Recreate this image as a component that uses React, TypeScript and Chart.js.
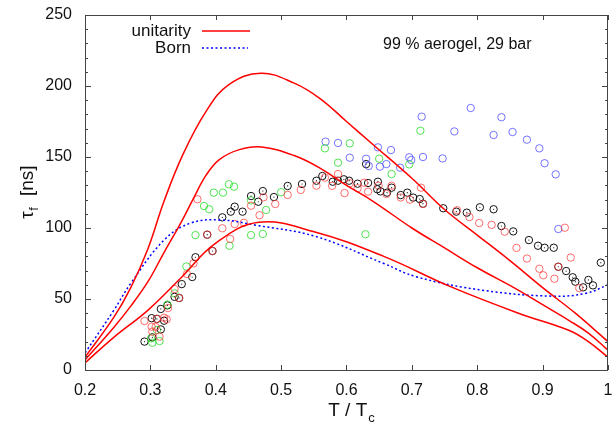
import React, { useEffect, useRef } from "react";
import { Chart, registerables } from "chart.js";

Chart.register(...registerables);

// Model curves: [T/Tc, tau_f (ns)]
const unitarityHigh: number[][] = [
  [0.2, 9], [0.244, 37], [0.27, 58], [0.296, 85], [0.321, 119], [0.35, 152], [0.385, 182],
  [0.42, 201], [0.469, 209], [0.52, 202], [0.56, 191], [0.6, 175], [0.64, 159],
  [0.7, 135], [0.75, 113], [0.8, 95], [0.85, 77], [0.9, 58], [0.95, 40], [1.0, 20],
];
const unitarityMid: number[][] = [
  [0.2, 7], [0.244, 30], [0.27, 45], [0.296, 62], [0.32, 82], [0.347, 104], [0.365, 120],
  [0.385, 137], [0.405, 148], [0.435, 155], [0.47, 157], [0.52, 151], [0.56, 142], [0.6, 130],
  [0.64, 119], [0.7, 100], [0.75, 86], [0.8, 72], [0.86, 57], [0.9, 46], [0.94, 35],
  [0.97, 26], [1.0, 14],
];
const unitarityLow: number[][] = [
  [0.2, 5], [0.244, 23], [0.296, 42], [0.347, 65], [0.399, 89], [0.466, 104], [0.553, 97],
  [0.657, 80], [0.76, 58.5], [0.863, 40], [0.94, 28], [0.97, 20], [1.0, 9],
];
const bornCurve: number[][] = [
  [0.2, 12], [0.244, 42], [0.27, 61], [0.321, 91.5], [0.362, 103.5], [0.409, 105.6],
  [0.461, 102], [0.553, 94], [0.657, 75], [0.708, 65.5], [0.811, 56], [0.915, 52],
  [0.966, 54], [1.0, 60],
];

// Measured points
const blackPts: number[][] = [
  [0.291, 20], [0.303, 23], [0.302, 36.5], [0.31, 36], [0.316, 28.6], [0.316, 43], [0.321, 34.7],
  [0.326, 45.5], [0.337, 51.5], [0.344, 50.7], [0.348, 60.5], [0.364, 65.5], [0.369, 79.4],
  [0.387, 95.3], [0.395, 83.8], [0.41, 107.5], [0.423, 111.5], [0.429, 115], [0.441, 111.5],
  [0.454, 122.5], [0.465, 118.5], [0.472, 126], [0.489, 121.8], [0.51, 129.6], [0.532, 131],
  [0.554, 133.3], [0.563, 136.6], [0.579, 132.6], [0.587, 133.3], [0.596, 134.3], [0.604, 133.3],
  [0.617, 131.2], [0.63, 145], [0.633, 131.7], [0.648, 132.6], [0.647, 127.3], [0.652, 125.8],
  [0.662, 124.9], [0.669, 128.4], [0.683, 123.2], [0.693, 124.9], [0.702, 121.4], [0.712, 120.4],
  [0.717, 117.1], [0.748, 113.9], [0.768, 111.5], [0.784, 110.8], [0.804, 114.6], [0.825, 113.2],
  [0.837, 101.4], [0.855, 97.6], [0.879, 91.5], [0.893, 87.5], [0.903, 86.1], [0.917, 86.1],
  [0.924, 72.7], [0.936, 69.7], [0.946, 65.3], [0.95, 62.2], [0.962, 58.2], [0.97, 63.4],
  [0.977, 59.6], [0.989, 75.6],
];
const redPts: number[][] = [
  [0.291, 34.5], [0.302, 30.5], [0.303, 27], [0.308, 30.3], [0.31, 36], [0.314, 23.5],
  [0.321, 36.8], [0.325, 35.7], [0.327, 43.6], [0.337, 57], [0.344, 50.7], [0.356, 67.6],
  [0.366, 75.1], [0.372, 120.2], [0.387, 95.3], [0.395, 83.8], [0.41, 99.8], [0.422, 92.3],
  [0.429, 102.8], [0.443, 103.7], [0.454, 115.7], [0.467, 109], [0.473, 121.6], [0.491, 116.9],
  [0.51, 123.3], [0.53, 126.8], [0.554, 129.8], [0.567, 135.5], [0.578, 129.7], [0.587, 138],
  [0.597, 124.6], [0.605, 131.5], [0.617, 128], [0.627, 131.9], [0.633, 125.6], [0.649, 129.8],
  [0.661, 124], [0.669, 129.8], [0.683, 121.5], [0.697, 120], [0.714, 128.4], [0.717, 116.9],
  [0.769, 112.5], [0.788, 107.7], [0.803, 103.5], [0.822, 102.2], [0.842, 97.4], [0.86, 86],
  [0.876, 78.5], [0.895, 71.3], [0.901, 66.7], [0.918, 64.3], [0.924, 72.7], [0.934, 100.2],
  [0.943, 79.2], [0.956, 57.7],
];
const greenPts: number[][] = [
  [0.301, 22.3], [0.303, 19.2], [0.314, 20.4], [0.31, 28.2], [0.326, 46], [0.337, 54],
  [0.355, 72.9], [0.369, 95], [0.382, 115.5], [0.39, 113.2], [0.397, 124.9], [0.411, 124.9],
  [0.42, 130.8], [0.428, 129.1], [0.421, 87.5], [0.454, 95], [0.472, 95.8], [0.454, 119.5],
  [0.477, 112.7], [0.5, 125.2], [0.567, 156.1], [0.587, 146], [0.605, 159.6], [0.629, 95.6],
  [0.65, 148.8], [0.669, 138], [0.696, 144.8], [0.713, 168.5],
];
const bluePts: number[][] = [
  [0.568, 160.8], [0.587, 159.9], [0.605, 149.5], [0.63, 148.8], [0.634, 143.7], [0.648, 156.8],
  [0.651, 143.2], [0.661, 145], [0.668, 154.9], [0.682, 142.5], [0.696, 149.8], [0.699, 147.9],
  [0.715, 178.4], [0.717, 150], [0.747, 149], [0.765, 168], [0.79, 184.5], [0.825, 165.5],
  [0.837, 178], [0.854, 167.6], [0.876, 162.2], [0.895, 156.1], [0.903, 145.6], [0.92, 137.8],
  [0.924, 99.3],
];

const xTickValues = [0.2, 0.3, 0.4, 0.5, 0.6, 0.7, 0.8, 0.9, 1.0];
const legendLabels = ["unitarity", "Born"];
const annotationText = "99 % aerogel, 29 bar";

const FONT = "'Liberation Sans', Arial, Helvetica, sans-serif";

const toXY = (arr: number[][]) => arr.map(([x, y]) => ({ x, y }));

const decorPlugin = {
  id: "decor",
  afterDraw(chart: any) {
    const { ctx, chartArea } = chart;
    const { left, right, top, bottom } = chartArea;
    const xs = chart.scales.x;
    const ys = chart.scales.y;
    ctx.save();
    // frame
    ctx.strokeStyle = "#444";
    ctx.lineWidth = 1;
    ctx.strokeRect(left + 0.5, top + 0.5, right - left - 1, bottom - top);
    // ticks
    ctx.beginPath();
    for (let v = 0; v <= 250; v += 10) {
      const py = Math.round(ys.getPixelForValue(v)) + 0.5;
      const len = v % 50 === 0 ? 6 : 3;
      ctx.moveTo(left, py); ctx.lineTo(left + len, py);
      ctx.moveTo(right, py); ctx.lineTo(right - len, py);
    }
    xTickValues.forEach((v) => {
      const px = Math.round(xs.getPixelForValue(v)) + 0.5;
      ctx.moveTo(px, bottom); ctx.lineTo(px, bottom - 5);
      ctx.moveTo(px, top); ctx.lineTo(px, top + 5);
    });
    ctx.stroke();

    // legend
    ctx.fillStyle = "#111";
    ctx.font = `17px ${FONT}`;
    ctx.textAlign = "right";
    ctx.textBaseline = "middle";
    ctx.fillText(legendLabels[0], 191, 31);
    ctx.fillText(legendLabels[1], 191, 48);
    ctx.strokeStyle = "#ff0000";
    ctx.lineWidth = 1.5;
    ctx.beginPath(); ctx.moveTo(202, 31); ctx.lineTo(250, 31); ctx.stroke();
    ctx.strokeStyle = "#0000ff";
    ctx.lineWidth = 1.5;
    ctx.setLineDash([2, 2.5]);
    ctx.beginPath(); ctx.moveTo(202, 48); ctx.lineTo(248, 48); ctx.stroke();
    ctx.setLineDash([]);

    // annotation
    ctx.textAlign = "left";
    ctx.font = `16px ${FONT}`;
    ctx.fillText(annotationText, 383, 45);

    // x title: T / T_c
    ctx.font = `19px ${FONT}`;
    ctx.textBaseline = "alphabetic";
    const main = "T / T";
    const w = ctx.measureText(main).width;
    ctx.font = `13px ${FONT}`;
    const ws = ctx.measureText("c").width;
    const x0 = 351 - (w + ws) / 2;
    ctx.font = `19px ${FONT}`;
    ctx.fillText(main, x0, 416);
    ctx.font = `13px ${FONT}`;
    ctx.fillText("c", x0 + w + 1, 422);

    // y title: tau_f [ns]
    ctx.translate(33, 192);
    ctx.rotate(-Math.PI / 2);
    ctx.font = `19px ${FONT}`;
    const tw = ctx.measureText("τ").width;
    ctx.font = `13px ${FONT}`;
    const fw = ctx.measureText("f").width;
    ctx.font = `19px ${FONT}`;
    const rest = "  [ns]";
    const rw = ctx.measureText(rest).width;
    const total = tw + fw + 1 + rw;
    let cx = -total / 2;
    ctx.fillText("τ", cx, 0);
    cx += tw;
    ctx.font = `13px ${FONT}`;
    ctx.fillText("f", cx + 0.5, 5);
    cx += fw + 1;
    ctx.font = `19px ${FONT}`;
    ctx.fillText(rest, cx, 0);
    ctx.restore();
  },
};

export default function App() {
  const ref = useRef<HTMLCanvasElement | null>(null);
  useEffect(() => {
    document.body.style.margin = "0";
    if (!ref.current) return;
    const pointDs = (label: string, data: number[][], color: string) => ({
      type: "scatter" as const,
      label,
      data: toXY(data),
      showLine: false,
      pointStyle: "circle",
      pointRadius: 3.7,
      pointBorderWidth: 1,
      pointBorderColor: color,
      pointBackgroundColor: "rgba(0,0,0,0)",
      order: 5,
    });
    const lineDs = (label: string, data: number[][], color: string, dash: number[] | undefined, width: number) => ({
      type: "line" as const,
      label,
      data: toXY(data),
      borderColor: color,
      borderWidth: width,
      borderDash: dash,
      pointRadius: 0,
      fill: false,
      tension: 0.4,
      order: 1,
    });
    const chart = new Chart(ref.current, {
      type: "scatter",
      data: {
        datasets: [
          pointDs("red", redPts, "rgba(255,60,60,0.75)"),
          pointDs("green", greenPts, "rgba(40,220,40,0.8)"),
          pointDs("blue", bluePts, "rgba(70,70,255,0.75)"),
          pointDs("black", blackPts, "#111"),
          {
            type: "scatter" as const,
            label: "blackdot",
            data: toXY(blackPts),
            showLine: false,
            pointRadius: 0.6,
            pointBorderWidth: 0,
            pointBackgroundColor: "#111",
            order: 4,
          },
          lineDs("unitarity high", unitarityHigh, "#ff0000", undefined, 1.5),
          lineDs("unitarity mid", unitarityMid, "#ff0000", undefined, 1.5),
          lineDs("unitarity low", unitarityLow, "#ff0000", undefined, 1.5),
          lineDs("Born", bornCurve, "#0000ff", [2, 2.5], 1.5),
        ] as any,
      },
      options: {
        responsive: false,
        animation: false,
        layout: { padding: { top: 15, right: 1, left: 0, bottom: 0 } },
        plugins: { legend: { display: false }, tooltip: { enabled: false } },
        scales: {
          x: {
            type: "linear",
            min: 0.2,
            max: 1.0,
            grid: { display: false, drawTicks: false },
            border: { display: false },
            ticks: {
              stepSize: 0.1,
              padding: 11,
              color: "#111",
              font: { family: FONT, size: 16 },
              callback: (v: any) => {
                const n = Math.round(Number(v) * 10) / 10;
                return n === 1 ? "1" : n.toFixed(1);
              },
            },
            afterFit: (s: any) => {
              s.height = 57;
              s.paddingLeft = 0;
              s.paddingRight = 0;
            },
          },
          y: {
            min: 0,
            max: 250,
            grid: { display: false, drawTicks: false },
            border: { display: false },
            ticks: {
              stepSize: 50,
              padding: 13,
              color: "#111",
              font: { family: FONT, size: 16 },
            },
            afterFit: (s: any) => {
              s.width = 85;
              s.paddingTop = 0;
              s.paddingBottom = 0;
            },
          },
        },
      },
      plugins: [decorPlugin],
    });
    return () => chart.destroy();
  }, []);
  return (
    <div style={{ width: 613, height: 427, position: "relative", background: "#fff" }}>
      <canvas ref={ref} width={613} height={427} style={{ display: "block" }} />
    </div>
  );
}
